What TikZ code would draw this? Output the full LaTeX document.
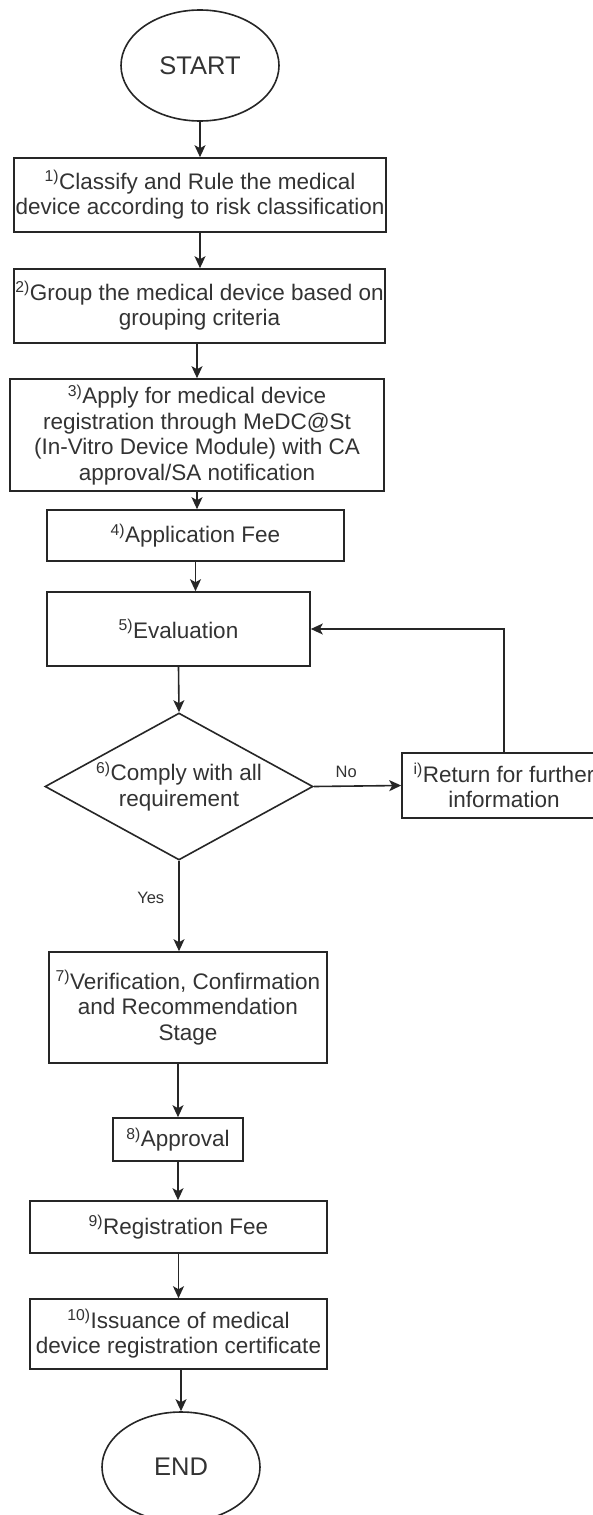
\documentclass[tikz,border=0pt]{standalone}
\usepackage{fontspec}
\setmainfont{Liberation Sans}
\usetikzlibrary{shapes.geometric,arrows.meta}
\begin{document}
\begin{tikzpicture}[x=1pt,y=-1pt,
  every node/.style={text=black!80},
  box/.style={draw=black!85,line width=1.6pt,rectangle,inner sep=0pt,align=center,font=\fontsize{22.5}{25.5}\selectfont},
  term/.style={draw=black!85,line width=1.6pt,ellipse,inner sep=0pt,font=\fontsize{25.5}{30}\selectfont},
  dec/.style={draw=black!85,line width=1.6pt,diamond,aspect=1.82,inner sep=0pt,align=center,font=\fontsize{22.5}{25.5}\selectfont},
  arr/.style={draw=black!85,line width=1.6pt,-{Stealth[length=12pt,width=11pt,inset=3pt]}},
  lbl/.style={font=\fontsize{16.5}{20}\selectfont,inner sep=0pt}]
\clip (0,0) rectangle (593,1515);
\fill[white] (0,0) rectangle (593,1515);

\node[term,minimum width=158,minimum height=111] (start) at (200,65.5) {START};
\node[box,minimum width=372,minimum height=74] (b1) at (200,195) {\textsuperscript{1)}Classify and Rule the medical\\device according to risk classification};
\node[box,minimum width=371,minimum height=74] (b2) at (199.5,306) {\textsuperscript{2)}Group the medical device based on\\grouping criteria};
\node[box,minimum width=374,minimum height=112] (b3) at (197,435) {\textsuperscript{3)}Apply for medical device\\registration through MeDC@St\\(In-Vitro Device Module) with CA\\approval/SA notification};
\node[box,minimum width=297,minimum height=51] (b4) at (195.5,535.5) {\textsuperscript{4)}Application Fee};
\node[box,minimum width=263,minimum height=74] (b5) at (178.5,629) {\textsuperscript{5)}Evaluation};
\node[dec,minimum width=268,minimum height=147] (d6) at (179,786.5) {\textsuperscript{6)}Comply with all\\requirement};
\node[box,minimum width=204,minimum height=65] (bi) at (504,785.5) {\textsuperscript{i)}Return for further\\information};
\node[box,minimum width=278,minimum height=111] (b7) at (188,1007.5) {\textsuperscript{7)}Verification, Confirmation\\and Recommendation\\Stage};
\node[box,minimum width=130,minimum height=43] (b8) at (178,1139.5) {\textsuperscript{8)}Approval};
\node[box,minimum width=297,minimum height=52] (b9) at (178.5,1227) {\textsuperscript{9)}Registration Fee};
\node[box,minimum width=297,minimum height=70] (b10) at (178.5,1334) {\textsuperscript{10)}Issuance of medical\\device registration certificate};
\node[term,minimum width=158,minimum height=110] (end) at (181,1467) {END};

\draw[arr] (start.south) -- (start.south |- b1.north);
\draw[arr] (b1.south) -- (b1.south |- b2.north);
\draw[arr] (b3.north |- b2.south) -- (b3.north);
\draw[arr] (b3.south) -- (b3.south |- b4.north);
\draw[arr] (b4.south) -- (b4.south |- b5.north);
\draw[arr] (b5.south) -- (d6.north);
\draw[arr] (d6.east) -- node[lbl,pos=0.37,above=8pt]{No} (bi.west);
\draw[arr] (bi.north) |- (b5.east);
\draw[arr] (d6.south) -- node[lbl,pos=0.41,left=14pt]{Yes} (d6.south |- b7.north);
\draw[arr] (b8.north |- b7.south) -- (b8.north);
\draw[arr] (b8.south) -- (b8.south |- b9.north);
\draw[arr] (b9.south) -- (b9.south |- b10.north);
\draw[arr] (end.north |- b10.south) -- (end.north);
\end{tikzpicture}
\end{document}
